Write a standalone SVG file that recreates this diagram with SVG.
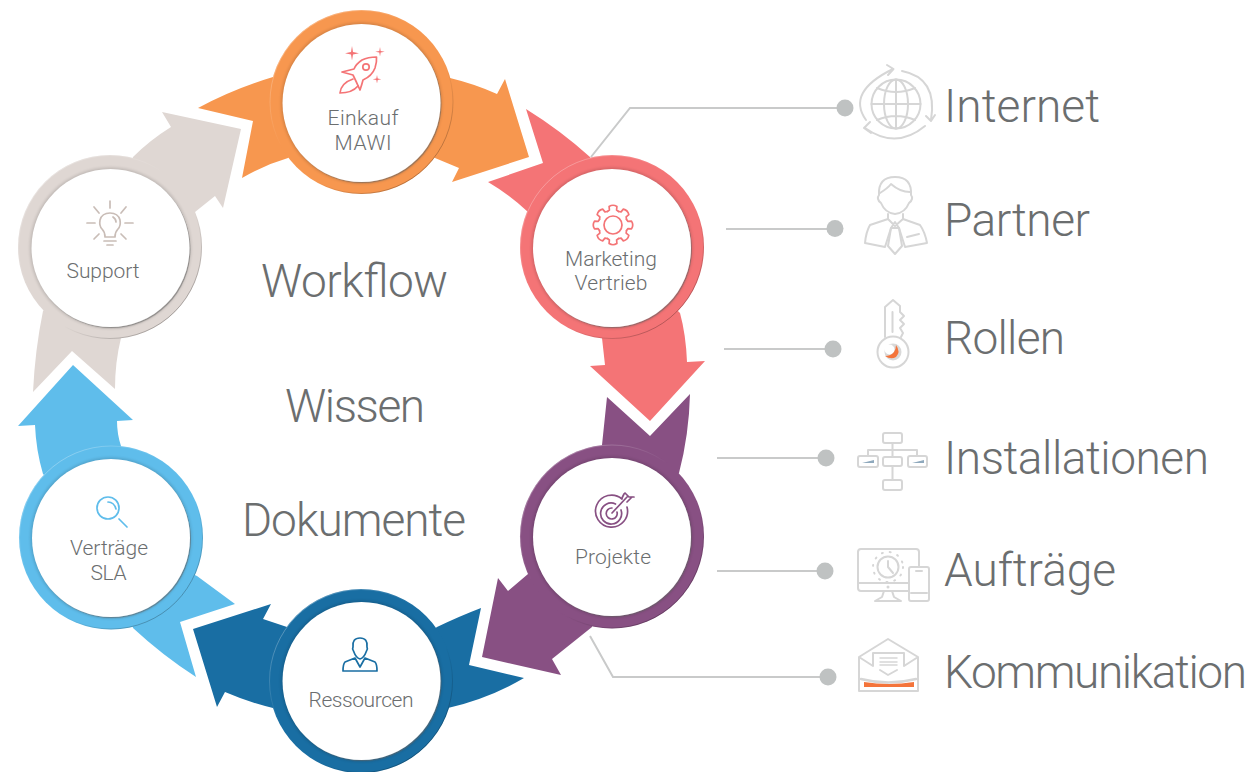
<svg xmlns="http://www.w3.org/2000/svg" xmlns:xlink="http://www.w3.org/1999/xlink" width="1252" height="772" viewBox="0 0 1252 772">
<style>
text{font-family:"Roboto","Liberation Sans",sans-serif;font-weight:300;fill:#6b6e6f}
.big{font-size:46px}
.lab{font-size:21px;text-anchor:start}
.lead{fill:none;stroke:#c9caca;stroke-width:2}
.dot{fill:#bfc2c2}
.rim{fill:none;stroke:url(#rimG);stroke-width:1}
.sh{fill:#000;opacity:.14;filter:url(#blur)}
.face{fill:#fff;filter:url(#drop)}
.ic{fill:none;stroke:#d6d6d6;stroke-width:2;stroke-linejoin:round;stroke-linecap:round}
.ni{fill:none;stroke-width:1.7;stroke-linejoin:round;stroke-linecap:round}
</style>
<defs>
<linearGradient id="rimG" x1="0.15" y1="0.1" x2="0.85" y2="0.9">
<stop offset="0" stop-color="#fff" stop-opacity=".3"/>
<stop offset=".4" stop-color="#fff" stop-opacity="0"/>
<stop offset=".65" stop-color="#000" stop-opacity="0"/>
<stop offset="1" stop-color="#000" stop-opacity=".28"/>
</linearGradient>
<filter id="blur" x="-10%" y="-10%" width="120%" height="120%"><feGaussianBlur stdDeviation="1.8"/></filter>
<filter id="drop" x="-10%" y="-10%" width="120%" height="120%"><feDropShadow dx="1" dy="1.200" stdDeviation=".5" flood-color="#666" flood-opacity=".55"/></filter>
<path id="tooth" d="M-5.6-13.5L-3.6-15L-3.9-18.500Q0-21 3.900-18.500L3.600-15L5.600-13.500"/>
</defs>

<g id="connectors">
<g id="arrows">
<path fill="#f7974f" d="M198 108Q233 89 273 77L361 102L288 158Q264 165 242 178L253 121ZM450 78Q475 84 497 94L505 79L529 157L452 182L459 168L435 158L361 102Z"/>
<path fill="#f47476" d="M526 109Q560 130 590 157L612 247L528 212Q510 195 488 182L543 163ZM612 247L602 338L605 365L590 366L650 421L705 361L687 362Q686 335 680 313Z"/>
<path fill="#885083" d="M607 397L650 436L690 394Q689 435 679 473L612 536L602 445ZM612 536L528 574L508 591L498 578L482 657L561 675L552 659L592 627Z"/>
<path fill="#196ea3" d="M437 627Q460 616 481 608L469 665L524 678Q490 698 448 708L361 681ZM361 681L287 627L263 619L271 604L193 629L217 707L225 692Q248 702 273 708Z"/>
<path fill="#5fbdeb" d="M43 474Q36 450 35 425L18 426L73 365L133 420L117 421Q117 434 121 446L111 538ZM111 538L197 576L235 604L180 622L196 677Q162 655 133 628Z"/>
<path fill="#dfd7d3" d="M43 311Q35 350 33 392L72 351L115 389Q115 362 121 338L110 247ZM110 247L133 157Q150 140 171 127L162 112L241 129L223 208L215 196L195 212Z"/>
</g>
<g id="leaders">
<path class="lead" d="M591 157L630 108H845"/>
<path class="lead" d="M726 229H835"/>
<path class="lead" d="M724 349H833"/>
<path class="lead" d="M717 458H826"/>
<path class="lead" d="M717 571H825"/>
<path class="lead" d="M590 636L613 677H828"/>
<circle class="dot" cx="845" cy="108" r="8.5"/>
<circle class="dot" cx="835" cy="228.500" r="8.5"/>
<circle class="dot" cx="833" cy="349" r="8.5"/>
<circle class="dot" cx="826" cy="458" r="8.5"/>
<circle class="dot" cx="825" cy="571" r="8.5"/>
<circle class="dot" cx="828" cy="677" r="8.5"/>
</g>
</g>

<g id="node-einkauf">
<circle cx="361.500" cy="102" r="92" fill="#f7974f"/><circle class="rim" cx="361.500" cy="102" r="91.500"/>
<circle class="sh" cx="361.500" cy="103" r="80.500"/><circle class="face" cx="361.500" cy="103" r="79"/>
<g class="ni" stroke="#f47476">
<path d="M376.500 57Q368 57 362 60Q356 64 354 69L342 72L353 75Q356 81 360 90Q362 84 363 80Q372 76 375 68Q377 62 376.500 57Z"/>
<circle cx="366" cy="67" r="3.200"/>
<path d="M353 79Q341 83 340 93Q352 93 358 86"/>
</g>
<path fill="#f47476" d="M352 46l1 6 6 1.200-6 1.200-1 6-1-6-6-1.200 6-1.200zM380 47l.7 4 4 .8-4 .8-.7 4-.7-4-4-.8 4-.8zM377 75l.7 3.500 3.500.8-3.500.8-.7 3.500-.7-3.500-3.500-.8 3.500-.8z"/>
<text class="lab" x="327.500" y="125" textLength="71">Einkauf</text>
<text class="lab" x="334.500" y="150" textLength="57">MAWI</text>
</g>

<g id="node-marketing">
<circle cx="612" cy="247" r="92" fill="#f47476"/><circle class="rim" cx="612" cy="247" r="91.500"/>
<circle class="sh" cx="612" cy="248" r="80.500"/><circle class="face" cx="612" cy="248" r="79"/>
<g class="ni" stroke="#f47476" transform="translate(613 225)">
<use xlink:href="#tooth"/><use xlink:href="#tooth" transform="rotate(45)"/><use xlink:href="#tooth" transform="rotate(90)"/><use xlink:href="#tooth" transform="rotate(135)"/><use xlink:href="#tooth" transform="rotate(180)"/><use xlink:href="#tooth" transform="rotate(225)"/><use xlink:href="#tooth" transform="rotate(270)"/><use xlink:href="#tooth" transform="rotate(315)"/>
<circle r="9"/>
</g>
<text class="lab" x="565" y="266" textLength="92">Marketing</text>
<text class="lab" x="574.500" y="290" textLength="73">Vertrieb</text>
</g>

<g id="node-projekte">
<circle cx="612" cy="536.500" r="92" fill="#885083"/><circle class="rim" cx="612" cy="536.500" r="91.500"/>
<circle class="sh" cx="612" cy="537" r="80.500"/><circle class="face" cx="612" cy="537" r="79"/>
<g class="ni" stroke="#885083">
<path d="M622 499A16 16 0 1 0 627 507M615.500 504A10.500 10.500 0 1 0 621 510M612 508A5.500 5.500 0 1 0 617 512"/>
<path d="M612 513L627 497M622 498L624 494M627 502L632 497M625 493L629 497L634 497"/>
</g>
<text class="lab" x="575" y="564" textLength="76">Projekte</text>
</g>

<g id="node-ressourcen">
<circle cx="361" cy="681" r="92" fill="#196ea3"/><circle class="rim" cx="361" cy="681" r="91.500"/>
<circle class="sh" cx="361.500" cy="681" r="80.500"/><circle class="face" cx="361.500" cy="681" r="79"/>
<g class="ni" stroke="#196ea3">
<path d="M353 647Q352 638 360 638Q368 638 367 647Q368 649 366.500 651Q364 658 360 659Q356 658 353.500 651Q352 649 353 647Z"/>
<path d="M343 671H377Q377 664 375 662L365 658L360 667L355 658L345 662Q343 664 343 671Z"/>
</g>
<text class="lab" x="308.500" y="707" textLength="105">Ressourcen</text>
</g>

<g id="node-vertraege">
<circle cx="111" cy="537.500" r="92" fill="#5fbdeb"/><circle class="rim" cx="111" cy="537.500" r="91.500"/>
<circle class="sh" cx="111" cy="538" r="80.500"/><circle class="face" cx="111" cy="538" r="79"/>
<g class="ni" stroke="#5fbdeb">
<circle cx="108" cy="508" r="11"/>
<path d="M119 519L127 527M108 502Q114 502 116 509"/>
</g>
<text class="lab" x="70" y="555" textLength="78">Verträge</text>
<text class="lab" x="90.500" y="580" textLength="36">SLA</text>
</g>

<g id="node-support">
<circle cx="110" cy="247" r="92" fill="#dfd7d3"/><circle class="rim" cx="110" cy="247" r="91.500"/>
<circle class="sh" cx="110.500" cy="248" r="80.500"/><circle class="face" cx="110.500" cy="248" r="79"/>
<g class="ni" stroke="#c9bdb7">
<path d="M110 201V208M87 223H95M125 223H133M94 207L99 213M126 207L121 213M94 239L99 234M126 239L121 234"/>
<path d="M105 237Q105 232 102 229Q99 226 100 220Q102 213 110 213Q118 213 120 220Q121 226 118 229Q115 232 115 237H105ZM104 241H116M107 245H113M113 217Q116 219 116 222"/>
</g>
<text class="lab" x="66.500" y="278" textLength="73">Support</text>
</g>

<g id="centre-text">
<text class="big" x="261" y="297" textLength="187">Workflow</text>
<text class="big" x="285" y="422" textLength="140">Wissen</text>
<text class="big" x="242" y="536" textLength="224">Dokumente</text>
</g>

<g id="item-internet">
<g class="ic">
<circle cx="896" cy="104" r="24.500"/><ellipse cx="896" cy="104" rx="12" ry="24.500"/>
<path d="M896 79.500V128.500M871.500 104H920.500M877 88Q896 96 915 88M877 120Q896 112 915 120"/>
<path d="M866 120Q846 92 893 69M887 65L893.500 69L888 75"/>
<path d="M902 71Q938 78 931 120M926 116L931 121L935 115"/>
<path d="M925 126Q896 150 865 128M870 122L864 128L871 133"/>
</g>
<text class="big" x="944" y="122" textLength="156">Internet</text>
</g>
<g id="item-partner">
<g class="ic">
<path d="M879 195Q878 177 895 177Q912 177 911 195Q914 199 909 203Q905 213 895 214Q885 213 881 203Q876 199 879 195ZM880 193Q888 188 891 184Q900 192 910 192"/>
<path d="M888 214V219L870 225Q866 232 865 243L885 247L891 228M903 214V219L920 225Q925 232 927 243L905 247L899 228"/>
<path d="M888 219L895 226L903 219M891 228H899L895 222ZM891 228L888 246L895 254L902 246L899 228M907 237L919 234"/>
</g>
<text class="big" x="944" y="236" textLength="146">Partner</text>
</g>
<g id="item-rollen">
<g class="ic">
<circle cx="893" cy="352" r="15.500"/>
<path d="M885 337V307L893 300L900 306V312L904 316L900 320L904 324L900 328L903 333L901 337M892.500 312V332"/>
</g>
<circle cx="893" cy="352" r="8.500" fill="#d9d9d9"/>
<circle cx="889.500" cy="349.500" r="5" fill="#fff"/>
<path fill="#f4743b" d="M896 345Q901 352 896 357Q891 360 885 356Q891 356 894 352Q896 349 896 345Z"/>
<text class="big" x="944" y="354" textLength="121">Rollen</text>
</g>
<g id="item-installationen">
<g class="ic">
<rect x="883" y="433" width="19" height="10" rx="2"/><rect x="883" y="457" width="19" height="9" rx="2"/><rect x="883" y="480" width="19" height="10" rx="2"/>
<rect x="858" y="456" width="20" height="11" rx="2"/><rect x="908" y="456" width="19" height="11" rx="2"/>
<path d="M892.500 443V457M892.500 466V480M868 456V450H917V456"/>
</g>
<path d="M862 463L874 460V463ZM912 463L924 460V463Z" fill="#8fa9bd"/>
<text class="big" x="944" y="474" textLength="265">Installationen</text>
</g>
<g id="item-auftraege">
<g class="ic">
<path d="M909 591H861Q858 591 858 588V552Q858 549 861 549H916Q919 549 919 552V567M858 583H909M884 591L882 597L875 601H901L894 597L892 591"/>
<rect x="909" y="567" width="20" height="34" rx="2"/>
<path d="M911 593H927M916 571H922"/>
<circle cx="888" cy="567" r="10.500"/><path d="M888 561V567L893 573"/>
<circle cx="888" cy="567" r="15" stroke-width="2" stroke-dasharray="1 7"/>
</g>
<circle cx="888" cy="587" r="1.500" fill="#d6d6d6"/>
<text class="big" x="944" y="586" textLength="172">Aufträge</text>
</g>
<g id="item-kommunikation">
<g class="ic">
<path d="M859 657L888 639L918 657V691H859ZM859 657L873 666M918 657L904 666M873 666V653H904V666M880 670L888 675L897 670"/>
<path d="M861 679Q888 686 916 679" stroke-width="2.500"/>
<path d="M880 658H897M880 662H897M880 665H897" stroke-width="1.500"/>
</g>
<path fill="#f4743b" d="M864 682Q889 686 914 682V687H864Z"/>
<text class="big" x="944" y="688" textLength="303">Kommunikation</text>
</g>
</svg>
